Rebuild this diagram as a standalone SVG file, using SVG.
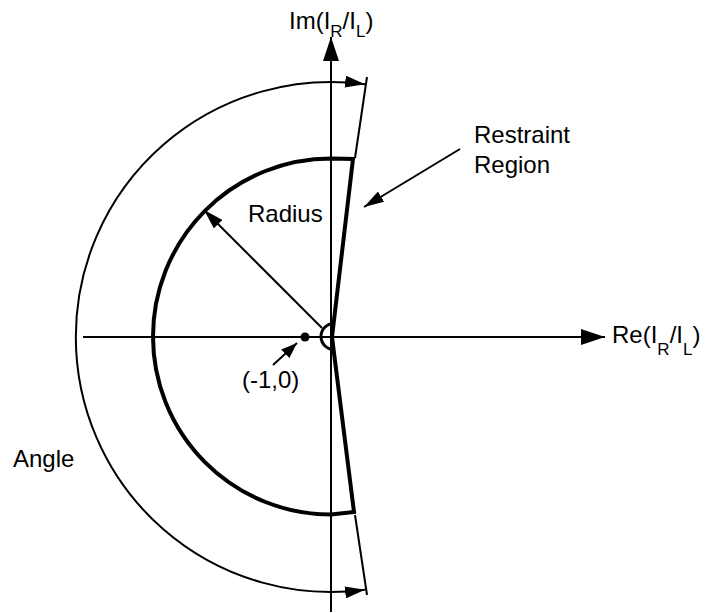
<svg xmlns="http://www.w3.org/2000/svg" width="707" height="613" viewBox="0 0 707 613">
  <style>
    .thin { fill: none; stroke: #000; stroke-width: 2; }
    .thick { fill: none; stroke: #000; stroke-width: 4; stroke-linejoin: miter; }
    .lbl { font-family: "Liberation Sans", Arial, sans-serif; font-size: 24px; fill: #000; }
    .sub { font-size: 17px; }
  </style>
  <defs>
    <marker id="ahBig" viewBox="0 0 24 16" refX="24" refY="8" markerWidth="24" markerHeight="16" markerUnits="userSpaceOnUse" orient="auto-start-reverse">
      <path d="M0,0 L24,8 L0,16 Z" fill="#000"/>
    </marker>
    <marker id="ah" viewBox="0 0 20 12" refX="20" refY="6" markerWidth="20" markerHeight="12" markerUnits="userSpaceOnUse" orient="auto-start-reverse">
      <path d="M0,0 L20,6 L0,12 Z" fill="#000"/>
    </marker>
    <marker id="ahSmall" viewBox="0 0 16 12" refX="16" refY="6" markerWidth="16" markerHeight="12" markerUnits="userSpaceOnUse" orient="auto">
      <path d="M0,0 L16,6 L0,12 Z" fill="#000"/>
    </marker>
  </defs>

  <g id="axes">
    <path id="axis-im" class="thin" d="M331 612 L331 37" marker-end="url(#ahBig)"/>
    <path id="axis-re" class="thin" d="M83 337 L605 337" marker-end="url(#ahBig)"/>
  </g>

  <g id="angle-arc">
    <path class="thin" d="M365 84.3 A255 255 0 1 0 365 589.7" marker-start="url(#ah)" marker-end="url(#ah)"/>
  </g>

  <g id="restraint-region">
    <path class="thick" d="M332 337 L353 159 L331 158.5 A178 178 0 0 0 331 514.5 L354 512 Z"/>
    <path class="thin" d="M355 158 L367 77"/>
    <path class="thin" d="M355 515 L367 595"/>
  </g>

  <g id="center-angle">
    <path class="thin" d="M334 323.5 A13 13 0 1 0 334 349.5" style="stroke-width:3"/>
  </g>

  <g id="point">
    <circle cx="305" cy="337" r="4.5" fill="#000"/>
  </g>

  <g id="connectors">
    <path class="thin" d="M322 328 L204 210" marker-end="url(#ah)"/>
    <path class="thin" d="M460 149 L364 207" marker-end="url(#ah)"/>
    <path class="thin" d="M273 365 L297 343" marker-end="url(#ahSmall)"/>
  </g>

  <g id="labels">
    <text class="lbl" x="289" y="28.5">Im(I<tspan class="sub" dy="8">R</tspan><tspan dy="-8">/I</tspan><tspan class="sub" dy="8">L</tspan><tspan dy="-8">)</tspan></text>
    <text class="lbl" x="612" y="343">Re(I<tspan class="sub" dy="12">R</tspan><tspan dy="-12">/I</tspan><tspan class="sub" dy="12">L</tspan><tspan dy="-12">)</tspan></text>
    <text class="lbl" x="474" y="143">Restraint</text>
    <text class="lbl" x="474" y="173">Region</text>
    <text class="lbl" x="248" y="222">Radius</text>
    <text class="lbl" x="242" y="388">(-1,0)</text>
    <text class="lbl" x="13" y="467">Angle</text>
  </g>
</svg>
